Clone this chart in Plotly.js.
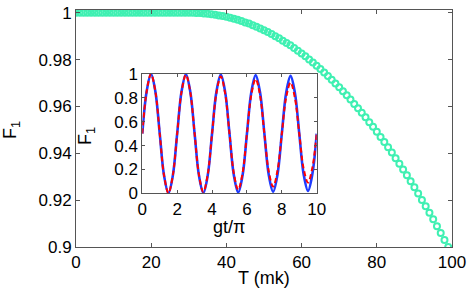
<!DOCTYPE html>
<html>
<head>
<meta charset="utf-8">
<script src="https://cdn.plot.ly/plotly-3.0.1.min.js"></script>
<style>html,body{margin:0;padding:0;background:#fff;}#chart{width:471px;height:292px;}</style>
</head>
<body>
<div id="chart"></div>
<script>
// Main plot: fidelity F1 vs temperature T (mk)
var temperatureT = [];
for (var i = 0; i <= 99; i++) temperatureT.push(i);
var fidelityF1 = [
  1,1,1,1,1,1,1,1,1,1,
  1,1,1,1,1,1,1,1,1,1,
  1,1,1,1,1,1,1,1,1,1,
  1,1.0000,0.9999,0.9999,0.9997,0.9996,0.9994,0.9992,0.9989,0.9986,
  0.9983,0.9979,0.9975,0.9970,0.9965,0.9959,0.9954,0.9947,0.9941,0.9933,
  0.9926,0.9918,0.9909,0.9900,0.9891,0.9881,0.9871,0.9861,0.9850,0.9838,
  0.9826,0.9814,0.9801,0.9788,0.9774,0.9760,0.9745,0.9730,0.9714,0.9698,
  0.9682,0.9665,0.9648,0.9630,0.9611,0.9593,0.9573,0.9554,0.9533,0.9513,
  0.9492,0.9470,0.9448,0.9426,0.9403,0.9379,0.9355,0.9331,0.9306,0.9281,
  0.9255,0.9228,0.9201,0.9174,0.9146,0.9118,0.9089,0.9060,0.9030,0.9000
];

// Inset: F1 vs gt/pi
var insetTime = [];
for (var j = 0; j <= 40; j++) insetTime.push(j * 0.25);
var insetBlue = [
  0.5,0.8536,1.0,0.8535,0.5,0.1467,0.0005,0.1469,
  0.5,0.8528,0.9986,0.8524,0.5,0.1481,0.0027,0.1486,
  0.5,0.8507,0.9955,0.8500,0.5,0.1508,0.0067,0.1516,
  0.5,0.8475,0.9907,0.8465,0.5,0.1546,0.0124,0.1558,
  0.5,0.8429,0.9841,0.8417,0.5,0.1597,0.0199,0.1612,
  0.5
];
var insetRed = [
  0.5,0.8535,0.9998,0.8531,0.5,0.1476,0.0022,0.1486,
  0.5,0.8499,0.9938,0.8482,0.5,0.1539,0.0122,0.1564,
  0.5,0.8408,0.9798,0.8376,0.5,0.1660,0.0302,0.1699,
  0.5,0.8259,0.9578,0.8213,0.5,0.1836,0.0562,0.1889,
  0.5,0.8054,0.9278,0.7994,0.5,0.2070,0.0902,0.2137,
  0.5
];

var mainXTicks = [0,20,40,60,80,100];
var mainYTicks = [0.9,0.92,0.94,0.96,0.98,1];
var mainYTickText = ['0.9','0.92','0.94','0.96','0.98','1'];
var insetXTicks = [0,2,4,6,8,10];
var insetYTicks = [0,0.2,0.4,0.6,0.8,1];
var insetYTickText = ['0','0.2','0.4','0.6','0.8','1'];

var FONT = 'Liberation Sans, Arial, Helvetica, sans-serif';

var traces = [
  {x: temperatureT, y: fidelityF1, type: 'scatter', mode: 'markers',
   marker: {symbol: 'circle-open', size: 6, color: '#3ff0b2', line: {width: 2, color: '#3ff0b2'}},
   xaxis: 'x', yaxis: 'y', hoverinfo: 'skip'},
  {x: insetTime, y: insetBlue, type: 'scatter', mode: 'lines',
   line: {color: '#1f3cff', width: 2.6, shape: 'spline'}, xaxis: 'x2', yaxis: 'y2', hoverinfo: 'skip'},
  {x: insetTime, y: insetRed, type: 'scatter', mode: 'lines',
   line: {color: '#ff0000', width: 2, dash: '5px,3px', shape: 'spline'}, xaxis: 'x2', yaxis: 'y2', hoverinfo: 'skip'}
];

var axCommon = {
  showline: true, linecolor: '#555', linewidth: 1, mirror: 'ticks',
  ticks: 'inside', tickcolor: '#555', showgrid: false, zeroline: false,
  tickfont: {family: FONT, size: 17, color: '#000'}
};

var titleFont = {family: FONT, size: 18, color: '#000'};

var layout = {
  width: 471, height: 292,
  margin: {l: 76, r: 19, t: 10, b: 45, pad: 0},
  paper_bgcolor: '#fff', plot_bgcolor: '#fff',
  showlegend: false,
  font: {family: FONT, color: '#000'},
  xaxis: Object.assign({}, axCommon, {
    domain: [0, 1], range: [0, 100], tickvals: mainXTicks, ticklen: 4
  }),
  yaxis: Object.assign({}, axCommon, {
    domain: [0, 1], range: [0.9, 1.0012], tickvals: mainYTicks, ticktext: mainYTickText, ticklen: 4
  }),
  xaxis2: Object.assign({}, axCommon, {
    domain: [0.1763, 0.6402], anchor: 'y2', range: [0, 10], tickvals: insetXTicks, ticklen: 3
  }),
  yaxis2: Object.assign({}, axCommon, {
    domain: [0.2266, 0.730], anchor: 'x2', range: [0, 1], tickvals: insetYTicks, ticktext: insetYTickText, ticklen: 3
  }),
  annotations: [
    {text: 'T (mk)', xref: 'paper', yref: 'paper', x: 0.5, y: -0.131, xanchor: 'center', yanchor: 'middle', showarrow: false, font: titleFont},
    {text: 'F<sub>1</sub>', xref: 'paper', yref: 'paper', x: -0.17, y: 0.494, xanchor: 'center', yanchor: 'middle', textangle: -90, showarrow: false, font: titleFont},
    {text: 'gt/π', xref: 'paper', yref: 'paper', x: 0.408, y: 0.0844, xanchor: 'center', yanchor: 'middle', showarrow: false, font: titleFont},
    {text: 'F<sub>1</sub>', xref: 'paper', yref: 'paper', x: 0.0266, y: 0.468, xanchor: 'center', yanchor: 'middle', textangle: -90, showarrow: false, font: titleFont}
  ]
};

Plotly.newPlot('chart', traces, layout, {staticPlot: true, displayModeBar: false});
</script>
</body>
</html>
